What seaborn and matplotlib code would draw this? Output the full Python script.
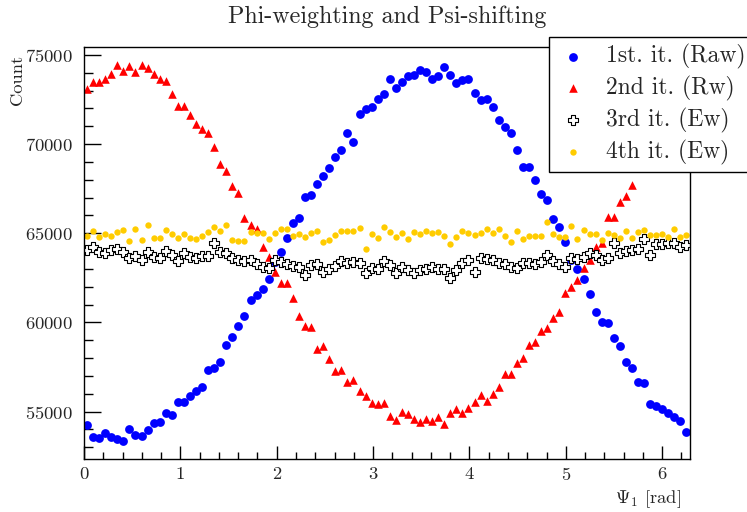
"""Phi-weighting and Psi-shifting: four iterations of the Psi_1 histogram"""
import numpy as np
import pandas as pd
import seaborn as sns
import matplotlib.pyplot as plt
from matplotlib.ticker import MultipleLocator

# 100 bins over [0, 2pi]
N_BINS = 100
edges = np.linspace(0, 2 * np.pi, N_BINS + 1)
psi = 0.5 * (edges[:-1] + edges[1:])

# 1st iteration (Raw)
raw = [54250, 53590, 53500, 53780, 53560, 53450, 53370, 54040, 53690, 53650,
       53970, 54380, 54430, 54940, 54810, 55560, 55560, 55880, 56160, 56400,
       57330, 57460, 57770, 58720, 59170, 59800, 60380, 61260, 61560, 61860,
       62420, 63410, 63950, 64750, 65560, 65840, 67010, 67150, 67770, 68210,
       68680, 69260, 69670, 70640, 70100, 71690, 71990, 72070, 72520, 72800,
       73640, 73130, 73500, 73840, 73880, 74160, 74030, 73670, 73820, 74350,
       73860, 73410, 73600, 73670, 72850, 72500, 72540, 72100, 71370, 70950,
       70610, 69670, 68700, 68700, 67990, 67200, 66870, 65790, 65370, 64530,
       63500, 62980, 62420, 61600, 60570, 60020, 59950, 59110, 58680, 57800,
       57430, 56680, 56590, 55430, 55310, 55130, 54900, 54680, 54490, 53840]

# 2nd iteration (Rw) - last bins sit behind the legend, estimated
rw = [73080, 73500, 73500, 73650, 73930, 74440, 74100, 74400, 74050, 74440,
      74250, 73930, 73650, 73560, 72800, 72140, 72140, 71620, 71130, 70850,
      70640, 69860, 68890, 68510, 67660, 67280, 65840, 65470, 65220, 64210,
      63690, 62850, 62230, 62230, 61350, 60360, 59800, 59730, 58510, 58680,
      57970, 57290, 57330, 56680, 56770, 56160, 55890, 55500, 55430, 55500,
      54770, 54530, 54960, 54870, 54590, 54430, 54590, 54490, 54710, 54300,
      54900, 55160, 54940, 55180, 55560, 55930, 55600, 55990, 56400, 57110,
      57110, 57740, 57990, 58740, 58920, 59520, 59680, 60250, 60600, 61640,
      62000, 62380, 63040, 63500, 64210, 64470, 65900, 65900, 66770, 67090,
      67710, 68740, 69300, 69900, 70500, 71000, 71600, 72100, 72500, 72900]

# 3rd iteration (Ew)
ew3 = [64060, 64250, 63930, 63880, 64060, 64100, 63970, 63600, 63740, 63500,
       63970, 63690, 63600, 64010, 63780, 63460, 63910, 63690, 63600, 63730,
       63730, 64470, 63970, 63880, 63600, 63500, 63450, 63500, 63260, 63130,
       63040, 63500, 63410, 63280, 63170, 63090, 62660, 63220, 63280, 62850,
       62980, 63170, 63450, 63320, 63410, 63350, 62760, 63070, 62980, 63460,
       63220, 62760, 63090, 62940, 62790, 62940, 62980, 63090, 63000, 62980,
       62480, 62940, 63320, 63500, 62850, 63600, 63550, 63480, 63340, 63280,
       63130, 63040, 63350, 63350, 63280, 63410, 63780, 63450, 63280, 63130,
       63600, 63540, 63690, 63880, 63780, 63500, 63630, 64470, 63880, 64020,
       64060, 64100, 64700, 63780, 64400, 64400, 64440, 64440, 64250, 64340]

# 4th iteration (Ew)
ew4 = [64850, 65150, 64780, 64960, 64850, 65090, 65190, 64590, 65220, 64620,
       65470, 64750, 64750, 65190, 64960, 64720, 64940, 64750, 64680, 64870,
       65060, 65370, 65150, 65470, 64620, 64590, 64590, 65090, 65030, 65000,
       64660, 65030, 65220, 65220, 64850, 64940, 64780, 65030, 65150, 64530,
       64620, 64900, 65130, 65130, 65150, 65310, 64120, 64940, 64720, 65340,
       65060, 64810, 65000, 64680, 65090, 64940, 65130, 65030, 65090, 64850,
       64400, 64810, 65130, 65000, 64900, 65000, 65220, 65000, 65220, 64850,
       64490, 65110, 64660, 64870, 64870, 64850, 65620, 64940, 64780, 64810,
       65410, 64680, 65190, 64940, 64940, 64620, 65000, 64900, 64720, 65130,
       64750, 65090, 65190, 64900, 64900, 64960, 64780, 65220, 64810, 64900]

labels = ['1st. it. (Raw)', '2nd it. (Rw)', '3rd it. (Ew)', '4th it. (Ew)']

df = pd.DataFrame({'psi': psi, 'raw': raw, 'rw': rw, 'ew3': ew3, 'ew4': ew4})

sns.set_style('ticks')
plt.rcParams['font.family'] = ['cmr10', 'DejaVu Serif']
plt.rcParams['mathtext.fontset'] = 'cm'
plt.rcParams['axes.formatter.use_mathtext'] = True
plt.rcParams['axes.linewidth'] = 1.0

fig = plt.figure(figsize=(7.47, 5.12), dpi=100)
ax = fig.add_axes([84 / 747, 1 - 459.3 / 512, 605.5 / 747, 412.6 / 512])

# 绘制四次迭代
sns.scatterplot(data=df, x='psi', y='raw', marker='o', s=40, color='#0000ff',
                linewidth=0, label=labels[0], ax=ax)
sns.scatterplot(data=df, x='psi', y='rw', marker='^', s=38, color='#ff0000',
                linewidth=0, label=labels[1], ax=ax)
sns.scatterplot(data=df, x='psi', y='ew3', marker='P', s=44, color='white',
                edgecolor='black', linewidth=0.8, label=labels[2], ax=ax)
sns.scatterplot(data=df, x='psi', y='ew4', marker='o', s=21, color='#ffcc00',
                linewidth=0, label=labels[3], ax=ax)

ax.set_xlim(0, 2 * np.pi)
ax.set_ylim(52325, 75465)
ax.xaxis.set_major_locator(MultipleLocator(1))
ax.xaxis.set_minor_locator(MultipleLocator(0.2))
ax.yaxis.set_major_locator(MultipleLocator(5000))
ax.yaxis.set_minor_locator(MultipleLocator(1000))
ax.ticklabel_format(axis='y', style='plain', useOffset=False)

ax.tick_params(which='both', direction='in', top=False, right=False,
               labelsize=13.4, width=1.0, color='black')
ax.tick_params(axis='y', which='major', length=12.2, pad=7.9)
ax.tick_params(axis='y', which='minor', length=6.5)
ax.tick_params(axis='x', which='major', length=9.4, pad=5)
ax.tick_params(axis='x', which='minor', length=4.7)
for sp in ax.spines.values():
    sp.set_color('black')

ax.set_title('Phi-weighting and Psi-shifting', fontsize=17.3, pad=17)
ax.set_ylabel('Count', fontsize=13.4, loc='top')
ax.yaxis.set_label_coords(-0.097, 0.98)
ax.set_xlabel(r'$\Psi_1$ [rad]', fontsize=13.4, loc='right')
ax.xaxis.set_label_coords(0.987, -0.07)

handles, lbls = ax.get_legend_handles_labels()
ax.get_legend().remove()
leg = fig.legend(handles, lbls, loc='upper left',
                 bbox_to_anchor=(549 / 747, 1 - 37.3 / 512),
                 frameon=True, fancybox=False, framealpha=1,
                 edgecolor='black', fontsize=17, borderpad=0.3,
                 labelspacing=0.28, handlelength=1.4, handletextpad=0.7,
                 borderaxespad=0)
leg.get_frame().set_linewidth(1.0)

fig.savefig('out.png', dpi=100)
